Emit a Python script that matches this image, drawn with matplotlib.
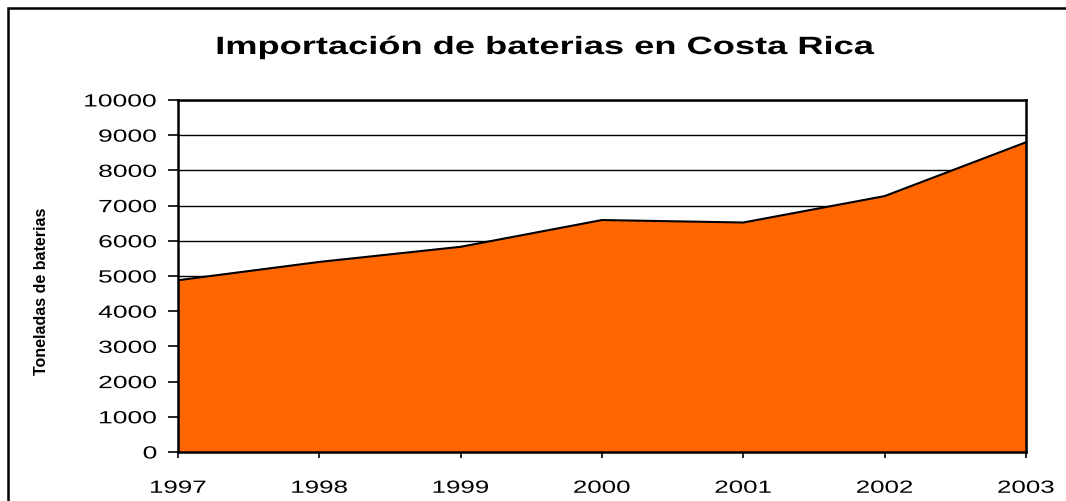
import matplotlib
matplotlib.use("Agg")
import matplotlib.pyplot as plt
from matplotlib.patches import Rectangle
from matplotlib.patheffects import AbstractPathEffect
from matplotlib.transforms import Affine2D

years = [1997, 1998, 1999, 2000, 2001, 2002, 2003]
tons = [4880, 5400, 5830, 6590, 6520, 7270, 8800]
yticks = list(range(0, 10001, 1000))

title = "Importación de baterias en Costa Rica"
ylabel = "Toneladas de baterias"


class HStretch(AbstractPathEffect):
    """Stretch glyphs horizontally (text stays a real Text object)."""

    def __init__(self, sx, anchor="center"):
        super().__init__()
        self.sx = sx
        self.anchor = anchor

    def draw_path(self, renderer, gc, tpath, affine, rgbFace=None):
        ext = tpath.get_extents()
        if self.anchor == "left":
            a = ext.x0
        elif self.anchor == "right":
            a = ext.x1
        else:
            a = 0.5 * (ext.x0 + ext.x1)
        t = Affine2D().translate(-a, 0).scale(self.sx, 1).translate(a, 0) + affine
        renderer.draw_path(gc, tpath, t, rgbFace)


W, H = 1066, 502
fig = plt.figure(figsize=(W / 100, H / 100), dpi=100)
fig.patch.set_facecolor("white")

# outer chart border (extends past right/bottom edge)
fig.patches.append(Rectangle((8 / W, -0.2), 1.2, 1 - 9 / H + 0.2,
                             transform=fig.transFigure, fill=False,
                             edgecolor="black", linewidth=1.8))

ax = fig.add_axes([178 / W, 1 - 453 / H, (1026 - 178) / W, (453 - 101) / H])
ax.set_xlim(years[0], years[-1])
ax.set_ylim(0, 10000)
ax.set_yticks(yticks)
ax.set_xticks(years)
ax.set_xticklabels([str(y) for y in years])
ax.grid(axis="y", color="black", linewidth=1.0)
ax.set_axisbelow(True)

ax.fill_between(years, tons, 0, color="#FF6600", zorder=2)
ax.plot(years, tons, color="black", linewidth=1.5, zorder=3)

for s in ax.spines.values():
    s.set_color("black")
    s.set_linewidth(1.8)
    s.set_zorder(4)

font = "Liberation Sans"
ax.tick_params(axis="y", direction="out", length=7, width=1.2, pad=8,
               labelsize=12.7)
ax.tick_params(axis="x", direction="out", length=4, width=1.2, pad=16,
               labelsize=12.7)
for lab in ax.get_yticklabels():
    lab.set_fontfamily(font)
    lab.set_path_effects([HStretch(1.5, "right")])
for lab in ax.get_xticklabels():
    lab.set_fontfamily(font)
    lab.set_path_effects([HStretch(1.47, "center")])

fig.text(545 / W, 1 - 48 / H, title, ha="center", va="center",
         fontsize=18, fontweight="bold", family=font,
         path_effects=[HStretch(1.45, "center")])
fig.text(42 / W, 1 - 291 / H, ylabel, ha="center", va="center",
         rotation=90, fontsize=11.5, fontweight="bold", family=font)

fig.savefig("out.png", dpi=100)
